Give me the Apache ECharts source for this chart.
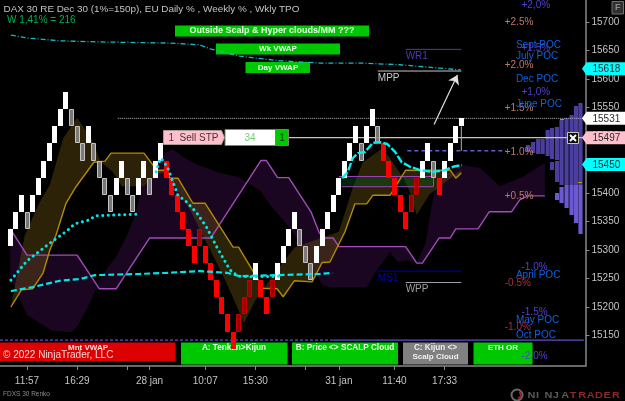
<!DOCTYPE html>
<html>
<head>
<meta charset="utf-8">
<style>html,body{margin:0;padding:0;background:#000}#chart{width:625px;height:401px}</style>
<script src="https://cdn.jsdelivr.net/npm/echarts@6/dist/echarts.min.js"></script>
</head>
<body>
<div id="chart"></div>
<script>
// FDXS 30 Renko: brick top price and brick kind per bar
// U = white up, G = grey pullback, D = red down, R = dark red pullback
const brickSize = 30;
const brickTops = [15337,15367,15397,15367,15397,15427,15457,15487,15517,15547,15577,15547,15517,15487,15517,15487,15457,15427,15397,15427,15457,15427,15397,15427,15457,15427,15457,15487,15457,15427,15397,15367,15337,15307,15337,15307,15277,15247,15217,15187,15157,15187,15217,15247,15277,15247,15217,15247,15277,15307,15337,15367,15337,15307,15277,15307,15337,15367,15397,15427,15457,15487,15517,15487,15517,15547,15517,15487,15457,15427,15397,15367,15397,15427,15457,15487,15457,15427,15457,15487,15517,15531];
const brickKinds = "UUUGUUUUUUUGGGUGGGGUUGGUUGUUDDDDDDRDDDDDDRRRUDDRUUUUGGGUUUUUUUUGUUGDDDDDRRUUGDUUUU".split("");
const lastBrickOpen = 15517;
const lastBrickLow = 15474;

// Indicator lines as [bar, price]
const kijunLine = [[0,15337],[3,15291],[12,15291],[16,15232],[19,15232],[25,15321],[36,15321],[45,15457],[46,15457],[48,15427],[50,15427],[54,15367],[55.5,15330],[56.5,15321],[58,15321],[59,15306],[71,15306],[73,15277],[74,15277],[77,15321],[79,15321],[80,15337],[84,15337],[86,15367],[90,15367],[91.5,15388],[93,15395],[96,15395]];
const hyperEdge = [[0,15256],[1.2,15225],[3,15186],[5.9,15168],[7.7,15158],[11.1,15156],[12.2,15168],[14.3,15207],[16.5,15256],[19.2,15291],[21,15326],[22.4,15361],[23.7,15414],[25.1,15423],[26.5,15453],[27.8,15470],[29.2,15477],[31,15463],[32.8,15453],[37.1,15437],[40.9,15428],[44.8,15405],[47,15375],[49,15353],[51.1,15326],[53.8,15279],[56,15239],[57.4,15234],[64,15234],[65.5,15260],[68.2,15296],[69.6,15279],[71.2,15282],[72.9,15277],[74.5,15309],[75.7,15379],[76.6,15423],[81.3,15449],[84.4,15444],[87.9,15412],[92,15428],[96,15453]];
const scalpLine = [[0.1,15200],[2,15230],[4,15232],[5.9,15260],[7.1,15300],[8.2,15326],[10,15382],[11.8,15411],[15,15454],[17,15456],[18.1,15470],[24,15470],[26.3,15440],[27.8,15440],[28.7,15426],[30.1,15426],[32.8,15382],[35,15382],[40,15305],[41,15305],[45.4,15233],[47.9,15232],[49,15218],[51,15246],[54.2,15244],[56,15278],[57.4,15279],[60.1,15332],[61.9,15381],[64,15381],[65.1,15396],[68.2,15396],[71,15440],[79,15440],[80,15426],[81,15435]];
const scalpEdge = [[0.1,15200],[2.6,15326],[5,15379],[7.1,15414],[9.5,15496],[12,15532],[14.9,15490],[16.1,15456],[18.4,15437],[20,15412],[23.8,15412],[26.5,15433],[27.8,15437],[32.3,15370],[38.6,15247],[42,15172],[44,15212],[47.5,15260],[51.1,15305],[59,15332],[61.5,15409],[63.3,15454],[66.9,15479],[70,15435],[71.4,15411],[73,15362],[75.3,15398],[77.2,15412],[80.4,15437],[81,15440]];
const weekVwap = [[0.1,15677],[3,15672],[8.9,15667],[16.1,15665],[28.7,15663],[34,15660],[35.9,15653],[41.2,15640],[48.4,15632],[55.6,15628],[62.8,15628],[70,15625],[77.2,15619],[80.9,15616]];
const dotTrailOne = [[0.1,15247],[3,15281],[7.1,15312],[10.1,15333],[11.6,15346],[14.3,15353],[15.2,15360],[23,15363]];
const dotTrailTwo = [[26.2,15437],[26.7,15454],[27.1,15461],[27.6,15454],[28.3,15444],[29,15425],[30.1,15396],[31.7,15384],[33.5,15365],[35.3,15339],[37.1,15305],[38.9,15274],[39.8,15261],[41.2,15254],[43,15253],[48.9,15254]];
const monthVwap = [[0.1,15228],[4,15235],[8.9,15246],[12.5,15249],[15.2,15256],[23.3,15258],[28.1,15260],[34,15263],[38.9,15260],[41.2,15254],[55.6,15258],[57.9,15260]];
const dayVwap = [[59.6,15426],[60.6,15437],[61.5,15461],[62.4,15470],[63.7,15472],[65.1,15488],[66.4,15489],[67.7,15486],[69.1,15472],[70.3,15454],[71.8,15446],[73.6,15440],[75.9,15437],[78.1,15440],[79.5,15446],[81.1,15449]];

// Horizontal levels and their bar spans
const lastTradeLevel = 15531, orderLevel = 15497, weekOpenLevel = 15474, sessionLowLevel = 15142;
const pivotNames = ["WR1","MPP","MS1","WPP"];
const pivotPrices = [15652,15614,15263,15243];
const pivotFrom = [71,66,66,71];
const pivotColors = ["#4a3cb4","#c8c8c8","#0000b8","#a0a0a0"];
const boxBars = [59,76], boxPrices = [15411,15429];
const moveArrow = [[76.1,15520],[80.3,15607]];

// Weekly TPO columns: bar position, then price spans of the dark and the bright blocks
const tpoBars = [93,93.9,94.8,95.6,96.5,97.3,98.2,99,99.9,100.8,101.6,102.4];
const tpoDark = [[15472,15484],[15470,15489],[15469,15495],[15468,15495],[15465,15511],[15460,15514],[15458,15516],[15414,15528],[15414,15532],[15414,15537],[15414,15553],[15414,15558]];
const tpoExtra = [null,null,null,null,null,[15440,15454],[15419,15456],null,null,null,null,null];
const tpoBright = [null,null,null,null,null,null,[15388,15400],[15382,15410],[15374,15414],[15361,15414],[15347,15414],[15328,15414]];
const tpoMarks = [[99,15530],[102.4,15420]];

// Percent and POC annotations on the right side
const dailyUpTexts = ["+2.5%","+2.0%","+1.5%","+1.0%","+0.5%"];
const dailyUpPrices = [15700,15625,15549,15471,15395];
const dailyDownTexts = ["-0.5%","-1.0%"];
const dailyDownPrices = [15242,15165];
const weeklyTexts = ["+2,0%","+1,5%","+1,0%","-1.0%","-1.5%","-2.0%"];
const weeklyPrices = [15730,15654,15576,15269,15191,15114];
const pocTexts = ["Sept POC","July POC","Dec POC","June POC","April POC","May POC","Oct POC"];
const pocPrices = [15660,15640,15600,15556,15255,15176,15151];

// Price tags at the axis
const tagPrices = [15618,15531,15497,15450];
const tagFills = ["#00ffff","#ffffff","#ffc0cb","#00ffff"];

// Axis labelling
const priceTicks = [15150,15200,15250,15300,15350,15400,15450,15500,15550,15600,15650,15700];
const timeTickBars = [3,12,21,25,35,44,53,59,69,78];
const timeLabelBars = [3,12,25,35,44,59,69,78];
const timeLabels = ["11:57","16:29","28 jan","10:07","15:30","31 jan","11:40","17:33"];

const BAR_MIN = -1.85, BAR_MAX = 103.3;
const SANS = '"Liberation Sans", Arial, sans-serif';

const lineSeries = (name, data, color, width, type, z, extra) => Object.assign({
  name, type: 'line', data, showSymbol: false, silent: true, z, animation: false,
  lineStyle: { color, width, type }
}, extra || {});

const polygonBetween = (name, upper, lower, fill, z) => ({
  name, type: 'custom', data: [[0, 15400]], z, silent: true, animation: false,
  renderItem: (p, api) => ({
    type: 'polygon',
    shape: { points: upper.concat(lower.slice().reverse()).map(pt => api.coord(pt)) },
    style: { fill }
  })
});

const noteSeries = (name, texts, prices, bar, color) => ({
  name, type: 'custom', z: 30, silent: true, animation: false, clip: false,
  data: prices.map(v => [bar, v]),
  renderItem: (p, api) => {
    const c = api.coord([api.value(0), api.value(1)]);
    return { type: 'text', style: { x: c[0], y: c[1], text: texts[p.dataIndex], fill: color, font: '10px ' + SANS, align: 'left', verticalAlign: 'middle', textAlign: 'left', textVerticalAlign: 'middle' } };
  }
});

// Renko bricks, snapped to whole pixels so their edges stay crisp
const brickSeries = {
  name: 'bricks', type: 'custom', z: 12, silent: true, animation: false,
  data: brickTops.map((top, i) => [i, top]),
  renderItem: (p, api) => {
    const i = api.value(0), top = api.value(1);
    const bottom = i === brickTops.length - 1 ? lastBrickOpen : top - brickSize;
    const a = api.coord([i, top]), b = api.coord([i, bottom]);
    const w = 5, kind = brickKinds[i];
    const fills = { U: '#ffffff', G: 'rgba(135,135,135,0.88)', D: '#ff0000', R: 'rgba(165,0,0,0.9)' };
    const strokes = { U: null, G: '#c4c4c4', D: null, R: '#c80000' };
    const x0 = Math.round(a[0] - w / 2), y0 = Math.round(a[1]), y1 = Math.round(b[1]);
    const rect = {
      type: 'rect',
      shape: strokes[kind]
        ? { x: x0 + 0.5, y: y0 + 0.5, width: w - 1, height: y1 - y0 - 1 }
        : { x: x0, y: y0, width: w, height: y1 - y0 },
      style: { fill: fills[kind], stroke: strokes[kind], lineWidth: strokes[kind] ? 1 : 0 }
    };
    if (i !== brickTops.length - 1) return rect;
    const low = api.coord([i, lastBrickLow]);
    return { type: 'group', children: [
      { type: 'line', shape: { x1: a[0], y1: b[1], x2: a[0], y2: low[1] }, style: { stroke: '#b0b0b0', lineWidth: 1 } },
      rect
    ] };
  }
};

// Weekly TPO profile
const tpoSeries = {
  name: 'tpo', type: 'custom', z: 8, silent: true, animation: false,
  data: tpoBars.map((b, i) => [b, i]),
  encode: { x: 0 },
  renderItem: (p, api) => {
    const i = p.dataIndex, bar = tpoBars[i], kids = [];
    const block = (span, fill) => {
      if (!span) return;
      const a = api.coord([bar, span[1]]), b = api.coord([bar, span[0]]);
      kids.push({ type: 'rect', shape: { x: a[0] - 2.1, y: Math.round(a[1]), width: 4.2, height: Math.round(b[1] - a[1]) }, style: { fill } });
    };
    block(tpoDark[i], '#4a3e9e');
    block(tpoExtra[i], '#4a3e9e');
    block(tpoBright[i], '#6b59d2');
    return { type: 'group', children: kids };
  }
};
const tpoMarkSeries = {
  name: 'tpoMarks', type: 'custom', z: 9, silent: true, animation: false, data: tpoMarks,
  renderItem: (p, api) => {
    const c = api.coord([api.value(0), api.value(1)]);
    return { type: 'rect', shape: { x: Math.round(c[0] - 2), y: Math.round(c[1]), width: 4, height: 1 }, style: { fill: '#b89a10' } };
  }
};

// Shaded box around the scalp zone
const boxSeries = {
  name: 'zone', type: 'custom', z: 6, silent: true, animation: false, data: [[boxBars[0], boxPrices[0]]],
  renderItem: (p, api) => {
    const a = api.coord([boxBars[0], boxPrices[1]]), b = api.coord([boxBars[1], boxPrices[0]]);
    return { type: 'group', children: [
      { type: 'rect', shape: { x: a[0], y: a[1], width: b[0] - a[0], height: b[1] - a[1] }, style: { fill: 'rgba(0,95,30,0.38)' } },
      { type: 'line', shape: { x1: a[0], y1: a[1], x2: b[0], y2: a[1] }, style: { stroke: '#a040c0', lineWidth: 1 } },
      { type: 'line', shape: { x1: a[0] + 3, y1: b[1], x2: b[0], y2: b[1] }, style: { stroke: '#a040c0', lineWidth: 1 } },
      { type: 'line', shape: { x1: b[0], y1: a[1] - 6, x2: b[0], y2: b[1] }, style: { stroke: '#a040c0', lineWidth: 1 } }
    ] };
  }
};

// Price tags drawn beyond the axis
const tagSeries = {
  name: 'tags', type: 'custom', z: 40, silent: true, animation: false, clip: false,
  data: tagPrices.map(v => [BAR_MAX, v]),
  renderItem: (p, api) => {
    const c = api.coord([BAR_MAX, api.value(1)]);
    const x = c[0], y = c[1], h = 6.5;
    return { type: 'group', children: [
      { type: 'polygon', shape: { points: [[x - 3.5, y], [x + 1, y - h], [625, y - h], [625, y + h], [x + 1, y + h]] }, style: { fill: tagFills[p.dataIndex] } },
      { type: 'text', style: { x: 592.5, y: y + 0.5, text: String(api.value(1)), fill: '#2a2a2a', font: '10px ' + SANS, align: 'left', verticalAlign: 'middle', textAlign: 'left', textVerticalAlign: 'middle' } }
    ] };
  }
};

const pivotSeries = pivotNames.map((n, k) => lineSeries(n, [[pivotFrom[k], pivotPrices[k]], [81, pivotPrices[k]]], pivotColors[k], 1, 'solid', 7));
const pivotLabels = {
  name: 'pivotNames', type: 'custom', z: 30, silent: true, animation: false,
  data: pivotPrices.map((v, k) => [pivotFrom[k], v]),
  renderItem: (p, api) => {
    const c = api.coord([api.value(0), api.value(1)]);
    return { type: 'text', style: { x: c[0], y: c[1] + 2, text: pivotNames[p.dataIndex], fill: pivotColors[p.dataIndex], font: '10px ' + SANS, align: 'left', verticalAlign: 'top', textAlign: 'left', textVerticalAlign: 'top' } };
  }
};

// Chart furniture: buttons, order ticket and the footer marks
const T = (x, y, text, fill, font, align, z) => ({ type: 'text', x, y, z: z || 1, silent: true,
  style: { text, fill, font: font + ' ' + SANS, align: align || 'left', verticalAlign: 'middle', textAlign: align || 'left', textVerticalAlign: 'middle' } });
const R = (x0, y0, x1, y1, fill, stroke, z) => ({ type: 'rect', z: z || 1, silent: true,
  shape: { x: x0, y: y0, width: x1 - x0, height: y1 - y0 }, style: { fill, stroke: stroke || null, lineWidth: stroke ? 1 : 0 } });

const furniture = [
  T(3.5, 9.5, 'DAX 30 RE Dec 30 (1%=150p), EU Daily % , Weekly % , Wkly TPO', '#c4c4c4', '9.9px', 'left', 60),
  T(7, 20, 'W 1,41% = 216', '#00b050', '10px', 'left', 60),

  R(175, 25.5, 369, 36.5, '#00c800'),
  T(272, 31, 'Outside Scalp & Hyper clouds/MM ???', '#e8ffe8', 'bold 9px', 'center'),
  R(216, 43.5, 340, 54.5, '#00c800'),
  T(278, 49, 'Wk VWAP', '#e8ffe8', 'bold 8px', 'center'),
  R(245.5, 62, 310, 73, '#00c800'),
  T(278, 67.5, 'Day VWAP', '#e8ffe8', 'bold 8px', 'center'),

  R(0, 342.5, 175.5, 361, '#dc0000'),
  T(88, 347.5, 'Mnt VWAP', '#ffe0e0', 'bold 8px', 'center'),
  T(3, 355.5, '\u00a9 2022 NinjaTrader, LLC', '#f0d8d8', '10px', 'left', 60),
  R(181, 342.5, 287.5, 364.5, '#00c800'),
  T(234, 347.5, 'A: Tenkan>Kijun', '#e8ffe8', 'bold 8.2px', 'center'),
  R(292, 342.5, 398, 364.5, '#00c800'),
  T(345, 347.5, 'B: Price <> SCALP Cloud', '#e8ffe8', 'bold 8.2px', 'center'),
  R(403, 342.5, 468, 364.5, '#808080'),
  T(435.5, 347.5, 'C: Kijun <>', '#eeeeee', 'bold 8.2px', 'center'),
  T(435.5, 357, 'Scalp Cloud', '#eeeeee', 'bold 8px', 'center'),
  R(473.5, 342.5, 532.5, 364.5, '#00c800'),
  T(503, 347.5, 'ETH OR', '#e8ffe8', 'bold 8px', 'center'),

  // order ticket on the working stop
  { type: 'polygon', z: 55, silent: true, shape: { points: [[163.5, 130.5], [221.5, 130.5], [224.5, 137.5], [221.5, 144.5], [163.5, 144.5]] }, style: { fill: '#ffc0cb', stroke: '#a89a90', lineWidth: 1 } },
  T(168.5, 138, '1  Sell STP', '#4a3038', '10px', 'left', 56),
  R(225, 129.5, 275.5, 145.5, '#ffffff', '#808060', 55),
  T(250, 138, '34', '#70d070', '10px', 'center', 56),
  R(275.5, 129.5, 288.5, 145.5, '#00c800', '#808060', 55),
  T(282, 138, '1', '#0a3a0a', '10px', 'center', 56),

  // close button on the order line
  R(567.5, 132.5, 578.5, 143.5, '#101010', '#c8c8a8', 55),
  { type: 'line', z: 56, silent: true, shape: { x1: 570, y1: 135, x2: 576, y2: 141 }, style: { stroke: '#ffffff', lineWidth: 2 } },
  { type: 'line', z: 56, silent: true, shape: { x1: 576, y1: 135, x2: 570, y2: 141 }, style: { stroke: '#ffffff', lineWidth: 2 } },

  // chart-properties button
  R(612, 1.5, 623.5, 14, '#303030', '#707070', 55),
  T(617.7, 8, 'F', '#8a8a8a', 'bold 9px', 'center', 56),

  T(3, 394, 'FDXS 30 Renko', '#8c8c8c', '6.5px', 'left', 60),

  // footer logotype
  { type: 'circle', z: 60, silent: true, shape: { cx: 517, cy: 395, r: 5.5 }, style: { fill: 'none', stroke: '#6a6a6a', lineWidth: 2 } },
  { type: 'arc', z: 60, silent: true, shape: { cx: 518, cy: 395, r: 3, startAngle: -1.2, endAngle: 1.6 }, style: { fill: 'none', stroke: '#a02020', lineWidth: 2 } }
];
'NINJATRADER'.split('').forEach((ch, k) => {
  furniture.push(Object.assign(T(527.5 + k * 8.45, 395, ch, k < 5 ? '#5a5a5a' : '#8a2a2a', 'bold 9.5px', 'left', 60), { scaleX: 1.15 }));
});

const chart = echarts.init(document.getElementById('chart'), null, { renderer: 'canvas' });
chart.setOption({
  backgroundColor: '#000000',
  animation: false,
  grid: { left: 0, top: 0, right: 39.5, bottom: 35 },
  xAxis: {
    type: 'value', min: BAR_MIN, max: BAR_MAX, splitLine: { show: false },
    axisLine: { onZero: false, lineStyle: { color: '#8a8a8a', width: 1.5 } },
    axisTick: { customValues: timeTickBars, length: 4, lineStyle: { color: '#8a8a8a' } },
    axisLabel: {
      customValues: timeLabelBars, margin: 10, color: '#c4c4c4', fontFamily: SANS, fontSize: 10,
      formatter: v => timeLabels[timeLabelBars.indexOf(v)] || ''
    }
  },
  yAxis: {
    type: 'value', position: 'right', min: 15096.5, max: 15738.6, splitLine: { show: false },
    axisLine: { show: true, onZero: false, lineStyle: { color: '#8a8a8a', width: 1.5 } },
    axisTick: { show: true, customValues: priceTicks, length: 4, lineStyle: { color: '#8a8a8a' } },
    axisLabel: { customValues: priceTicks, margin: 6, color: '#c4c4c4', fontFamily: SANS, fontSize: 10, formatter: v => String(v) }
  },
  graphic: { elements: furniture },
  series: [
    polygonBetween('hyperCloud', kijunLine, hyperEdge, 'rgba(72,16,88,0.36)', 3),
    polygonBetween('scalpCloud', scalpLine, scalpEdge, 'rgba(118,92,20,0.37)', 4),
    boxSeries,
    lineSeries('kijun', kijunLine, '#a24cb8', 1.4, 'solid', 7),
    lineSeries('scalp', scalpLine, '#b08c00', 1.4, 'solid', 7),
    lineSeries('lastTrade', [[19.3, lastTradeLevel], [BAR_MAX, lastTradeLevel]], '#bdbdbd', 1, [1, 1], 9),
    lineSeries('weekOpen', [[71.3, weekOpenLevel], [89, weekOpenLevel]], '#6a5ad0', 1.4, [4, 3], 9),
    lineSeries('sessionLowDash', [[BAR_MIN, sessionLowLevel], [58, sessionLowLevel]], '#5f50c8', 1.2, [3, 2], 9),
    lineSeries('sessionLow', [[58, sessionLowLevel], [103, sessionLowLevel]], '#5f50c8', 1.2, 'solid', 9),
    tpoSeries,
    tpoMarkSeries,
    lineSeries('orderLine', [[49.9, orderLevel], [BAR_MAX, orderLevel]], '#e0bdaa', 1.2, 'solid', 11),
    brickSeries,
    ...pivotSeries,
    pivotLabels,
    lineSeries('weekVwap', weekVwap, '#16b8c8', 1.3, [5, 2, 1, 2], 14),
    lineSeries('dotsOne', dotTrailOne, '#00e6e6', 3, [0.1, 5.4], 14, { lineStyle: { color: '#00e6e6', width: 3, type: [0.1, 5.4], cap: 'round' } }),
    lineSeries('dotsTwo', dotTrailTwo, '#00e6e6', 3, [0.1, 5.4], 14, { lineStyle: { color: '#00e6e6', width: 3, type: [0.1, 5.4], cap: 'round' } }),
    lineSeries('monthVwap', monthVwap, '#00e6e6', 2.2, [6, 3], 14),
    lineSeries('dayVwap', dayVwap, '#00f0f0', 2.4, [8, 2], 14),
    {
      name: 'move', type: 'line', data: [], z: 20, silent: true, animation: false,
      markLine: {
        silent: true, animation: false, symbol: ['none', 'arrow'], symbolSize: 9,
        label: { show: false }, lineStyle: { color: '#e0e0e0', width: 1.2, type: 'solid' },
        data: [[{ coord: moveArrow[0] }, { coord: moveArrow[1] }]]
      }
    },
    noteSeries('dailyUp', dailyUpTexts, dailyUpPrices, 88.8, '#c07868'),
    noteSeries('dailyDown', dailyDownTexts, dailyDownPrices, 88.8, '#a83040'),
    noteSeries('weekly', weeklyTexts, weeklyPrices, 91.8, '#5040d0'),
    noteSeries('poc', pocTexts, pocPrices, 90.8, '#1060e0'),
    tagSeries
  ]
});
</script>
</body>
</html>
